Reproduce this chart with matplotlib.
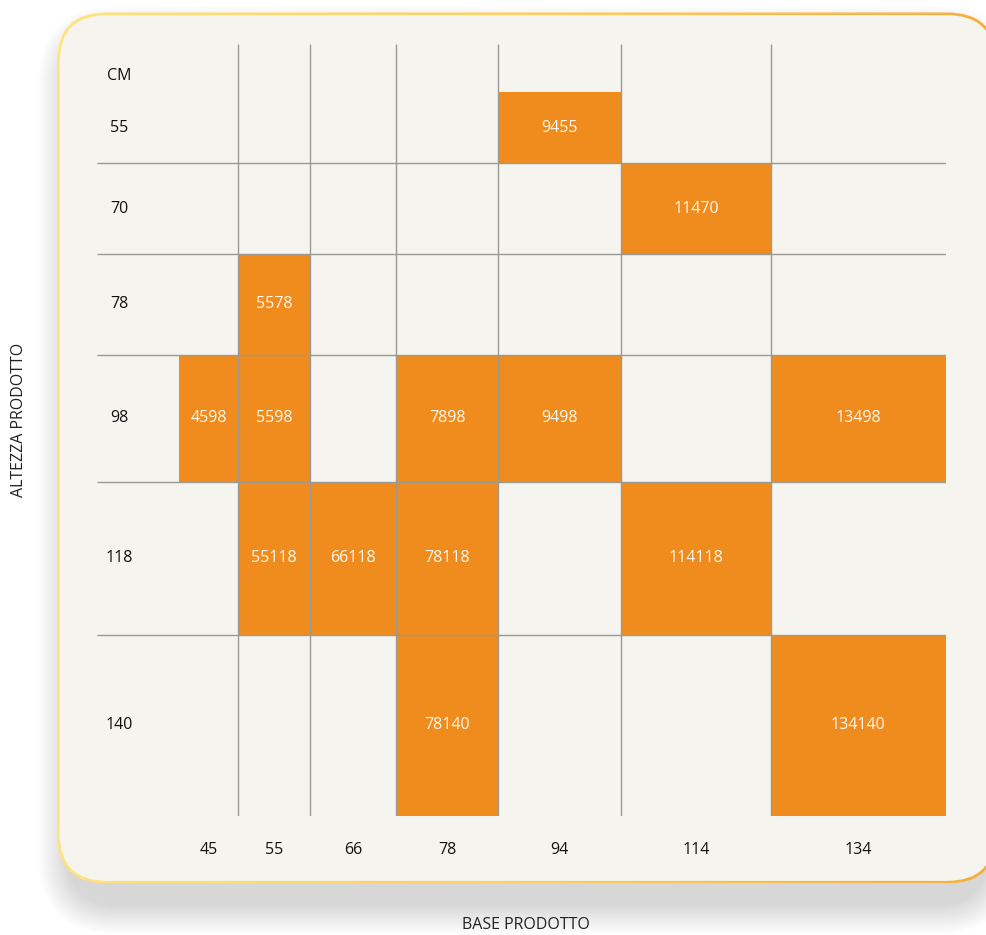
import numpy as np
import matplotlib
matplotlib.use("Agg")
import matplotlib.pyplot as plt
from matplotlib.patches import FancyBboxPatch, Rectangle
from matplotlib.colors import LinearSegmentedColormap

plt.rcParams['font.family'] = ['Open Sans', 'DejaVu Sans']

# ---- data ----
bases = [45, 55, 66, 78, 94, 114, 134]          # BASE PRODOTTO (cm)
heights = [55, 70, 78, 98, 118, 140]            # ALTEZZA PRODOTTO (cm)
cell_base = [94, 114, 55, 45, 55, 78, 94, 134, 55, 66, 78, 114, 78, 134]
cell_height = [55, 70, 78, 98, 98, 98, 98, 98, 118, 118, 118, 118, 140, 140]

ORANGE = '#EF8C1D'
GRID = '#9A9994'
PANEL = '#F5F4EE'

W, H = 986, 935
fig = plt.figure(figsize=(W / 100, H / 100), dpi=100)
fig.patch.set_facecolor('white')

# ---- background panel (pixel coordinates) ----
bg = fig.add_axes([0, 0, 1, 1])
bg.set_xlim(0, W)
bg.set_ylim(H, 0)
bg.axis('off')

px0, py0, pw, ph, rad = 57, 12.5, 940, 871, 50
# soft shadow
for i in range(20):
    pad = i * 1.5
    sh = FancyBboxPatch((px0 - pad + 10, py0 + 22 - pad), pw - 20 + 2 * pad, ph + 2 * pad,
                        boxstyle=f"round,pad=0,rounding_size={rad + pad}",
                        facecolor='black', edgecolor='none', alpha=0.007, zorder=0)
    bg.add_patch(sh)

outer = FancyBboxPatch((px0, py0), pw, ph,
                       boxstyle=f"round,pad=0,rounding_size={rad}",
                       facecolor='none', edgecolor='none', zorder=1)
bg.add_patch(outer)
grad = np.linspace(0, 1, 256).reshape(1, -1)
cmap = LinearSegmentedColormap.from_list('b', ['#FFE37C', '#FCD060', '#F6AE38'])
im = bg.imshow(grad, extent=[px0, px0 + pw, py0 + ph, py0], cmap=cmap,
               aspect='auto', zorder=1, interpolation='bilinear')
im.set_clip_path(outer)
bw = 2.6
inner = FancyBboxPatch((px0 + bw, py0 + bw), pw - 2 * bw, ph - 2 * bw,
                       boxstyle=f"round,pad=0,rounding_size={rad - bw}",
                       facecolor=PANEL, edgecolor='none', zorder=2)
bg.add_patch(inner)

bg.text(19, 420, 'ALTEZZA PRODOTTO', rotation=90, ha='center', va='center',
        fontsize=11.5, color='#222222')
bg.text(526, 925, 'BASE PRODOTTO', ha='center', va='center',
        fontsize=11.5, color='#222222')

# ---- grid axes ----
x_edges = np.concatenate([[0], np.cumsum(bases)])
y_edges = np.concatenate([[0], np.cumsum(heights)])
xmin, xmax = -62.6, x_edges[-1]
ymin, ymax = -37, y_edges[-1]

ax = fig.add_axes([97 / W, 1 - 816 / H, (946 - 97) / W, (816 - 44) / H])
ax.set_xlim(xmin, xmax)
ax.set_ylim(ymax, ymin)
ax.axis('off')
ax.patch.set_alpha(0)

for b, h in zip(cell_base, cell_height):
    i = bases.index(b)
    j = heights.index(h)
    ax.add_patch(Rectangle((x_edges[i], y_edges[j]), bases[i], heights[j],
                           facecolor=ORANGE, edgecolor='none', zorder=1))
    ax.text(x_edges[i] + bases[i] / 2, y_edges[j] + heights[j] / 2, f"{b}{h}",
            ha='center', va='center', color='#FFF8EE', fontsize=11.5, zorder=3)

for xv in x_edges[1:-1]:
    ax.plot([xv, xv], [ymin, ymax], color=GRID, lw=1.0, zorder=2,
            solid_capstyle='butt')
for yv in y_edges[1:-1]:
    ax.plot([xmin, xmax], [yv, yv], color=GRID, lw=1.0, zorder=2,
            solid_capstyle='butt')

row_lab_x = -45.5
ax.text(row_lab_x, -12.4, 'CM', ha='center', va='center', fontsize=11.5, color='#111111')
for j, h in enumerate(heights):
    ax.text(row_lab_x, y_edges[j] + h / 2, str(h), ha='center', va='center',
            fontsize=11.5, color='#111111')
for i, b in enumerate(bases):
    ax.text(x_edges[i] + b / 2, 585, str(b), ha='center', va='center',
            fontsize=11.5, color='#111111', clip_on=False)

fig.savefig('out.png', dpi=100, facecolor='white')
